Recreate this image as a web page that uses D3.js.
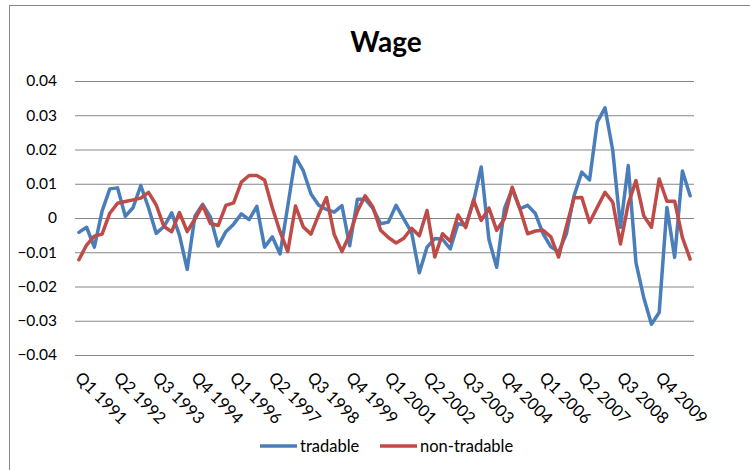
<!DOCTYPE html>
<html>
<head>
<meta charset="utf-8">
<script src="https://cdn.jsdelivr.net/npm/d3@7"></script>
<style>
  body { margin: 0; background: #fff; }
  text { font-family: Lato, "Open Sans", sans-serif; fill: #000; }
</style>
</head>
<body>
<svg id="chart" width="750" height="470"></svg>
<script>
// quarters Q1 1991 .. Q4 2010
const quarters = [];
for (let y = 1991; y <= 2010; y++) {
  for (let q = 1; q <= 4; q++) quarters.push(`Q${q} ${y}`);
}
const tickLabels = quarters.filter((d, i) => i % 5 === 0);
const yTicks = [0.04, 0.03, 0.02, 0.01, 0, -0.01, -0.02, -0.03, -0.04];

const tradable = [
  -0.0042, -0.0027, -0.0085, 0.0020, 0.0085, 0.0088, 0.0005, 0.0030, 0.0095, 0.0030,
  -0.0045, -0.0025, 0.0015, -0.0050, -0.0150, 0.0005, 0.0040, 0.0003, -0.0082, -0.0040,
  -0.0018, 0.0012, -0.0005, 0.0034, -0.0085, -0.0055, -0.0105, 0.0035, 0.0178, 0.0138,
  0.0070, 0.0037, 0.0025, 0.0017, 0.0036, -0.0081, 0.0055, 0.0055, 0.0028, -0.0017,
  -0.0012, 0.0037, -0.0003, -0.0042, -0.0160, -0.0085, -0.0060, -0.0062, -0.0090, -0.0017,
  -0.0021, 0.0047, 0.0149, -0.0063, -0.0144, 0.0027, 0.0085, 0.0027, 0.0037, 0.0013,
  -0.0046, -0.0084, -0.0099, -0.0047, 0.0065, 0.0134, 0.0111, 0.0280, 0.0322, 0.0197,
  -0.0027, 0.0153, -0.0130, -0.0232, -0.0310, -0.0276, 0.0031, -0.0115, 0.0137, 0.0065
];
const nonTradable = [
  -0.0122, -0.0079, -0.0053, -0.0047, 0.0014, 0.0043, 0.0048, 0.0053, 0.0058, 0.0075,
  0.0038, -0.0025, -0.0040, 0.0016, -0.0040, -0.0003, 0.0037, -0.0016, -0.0022, 0.0037,
  0.0044, 0.0105, 0.0124, 0.0124, 0.0111, 0.0030, -0.0040, -0.0098, 0.0035, -0.0026,
  -0.0047, 0.0010, 0.0060, -0.0048, -0.0098, -0.0048, 0.0020, 0.0065, 0.0032, -0.0036,
  -0.0057, -0.0073, -0.0059, -0.0030, -0.0052, 0.0022, -0.0114, -0.0046, -0.0068, 0.0009,
  -0.0028, 0.0053, -0.0007, 0.0029, -0.0036, -0.0002, 0.0090, 0.0027, -0.0046, -0.0038,
  -0.0036, -0.0055, -0.0114, -0.0025, 0.0059, 0.0060, -0.0013, 0.0031, 0.0075, 0.0046,
  -0.0076, 0.0041, 0.0109, 0.0007, -0.0027, 0.0114, 0.0049, 0.0049, -0.0057, -0.0120
];

const series = [
  { name: "tradable", values: tradable, color: "#4a7ebb" },
  { name: "non-tradable", values: nonTradable, color: "#be4b48" }
];

const svg = d3.select("#chart");
const margin = { top: 81, left: 75, right: 56, bottom: 115 };
const width = 750, height = 470;

// outer frame
svg.append("rect")
  .attr("x", 9.5).attr("y", 5.5)
  .attr("width", 800).attr("height", 500)
  .attr("fill", "none").attr("stroke", "#868686");

let x = d3.scalePoint()
  .domain(quarters)
  .range([margin.left, width - margin.right])
  .padding(0.5);

let y = d3.scaleLinear()
  .domain([-0.04, 0.04])
  .range([height - margin.bottom, margin.top]);

// gridlines + y labels
svg.append("g")
  .attr("transform", `translate(${margin.left},0)`)
  .call(d3.axisLeft(y).tickValues(yTicks).tickSize(-(width - margin.left - margin.right))
    .tickPadding(18).tickFormat(d => d === 0 ? "0" : d3.format(".2f")(d)))
  .call(g => g.select(".domain").remove())
  .call(g => g.selectAll("line").attr("stroke", "#868686"))
  .call(g => g.selectAll("text").attr("font-size", 15.5).attr("font-family", "Lato, sans-serif"));

// category labels
svg.append("g")
  .selectAll("text")
  .data(tickLabels)
  .enter()
  .append("text")
  .attr("transform", d => `translate(${x(d) + 4},${height - margin.bottom + 15}) rotate(45)`)
  .attr("dy", "0.75em")
  .attr("font-size", 16.5)
  .text(d => d);

let line = d3.line()
  .x((d, i) => x(quarters[i]))
  .y(d => y(d));

svg.selectAll(".series")
  .data(series)
  .enter()
  .append("path")
  .attr("class", "series")
  .attr("d", d => line(d.values))
  .attr("fill", "none")
  .attr("stroke", d => d.color)
  .attr("stroke-width", 3.5)
  .attr("stroke-linejoin", "round")
  .attr("stroke-linecap", "round");

// title
svg.append("text")
  .attr("x", 386).attr("y", 52)
  .attr("text-anchor", "middle")
  .attr("font-size", 28)
  .attr("font-weight", "bold")
  .text("Wage");

// legend
const legendPos = [{ lx: 260, tx: 300 }, { lx: 380, tx: 420 }];
const legend = svg.append("g");
series.forEach((s, i) => {
  legend.append("line")
    .attr("x1", legendPos[i].lx).attr("x2", legendPos[i].lx + 37)
    .attr("y1", 446).attr("y2", 446)
    .attr("stroke", s.color).attr("stroke-width", 3.5);
  legend.append("text")
    .attr("x", legendPos[i].tx).attr("y", 446)
    .attr("dy", "0.35em")
    .attr("font-size", 16.5)
    .text(s.name);
});
</script>
</body>
</html>
